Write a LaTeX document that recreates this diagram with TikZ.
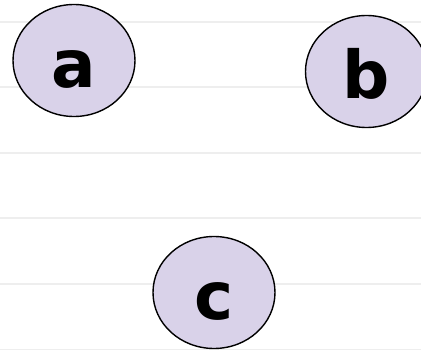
\documentclass[tikz,border=0pt]{standalone}
\usepackage{fontspec}
\setmainfont{DejaVu Sans}
\usepackage{xcolor}
\usetikzlibrary{shapes.geometric}
\definecolor{lav}{HTML}{D9D2E9}
\definecolor{ruleg}{HTML}{EEEEEE}

\begin{document}
\begin{tikzpicture}[x=1pt,y=-1pt,
  vert/.style={draw,ellipse,line width=1.4pt,fill=lav,inner sep=0pt,
    minimum width=122pt,minimum height=112pt,
    font=\fontsize{66}{66}\selectfont\bfseries,text height=54pt,text depth=0pt},
  rule/.style={draw=ruleg,line width=2pt}]
  \useasboundingbox (0,0) rectangle (421,350);
  \clip (0,0) rectangle (421,350);
  % ruled background
  \foreach \yy in {22,87.5,...,350} \draw[rule] (0,\yy) -- (421,\yy);
  \node[vert] (a) at (74,60.5) {a};
  \node[vert] (b) at (366.5,71.5) {b};
  \node[vert] (c) at (214,292.5) {c};
\end{tikzpicture}
\end{document}
